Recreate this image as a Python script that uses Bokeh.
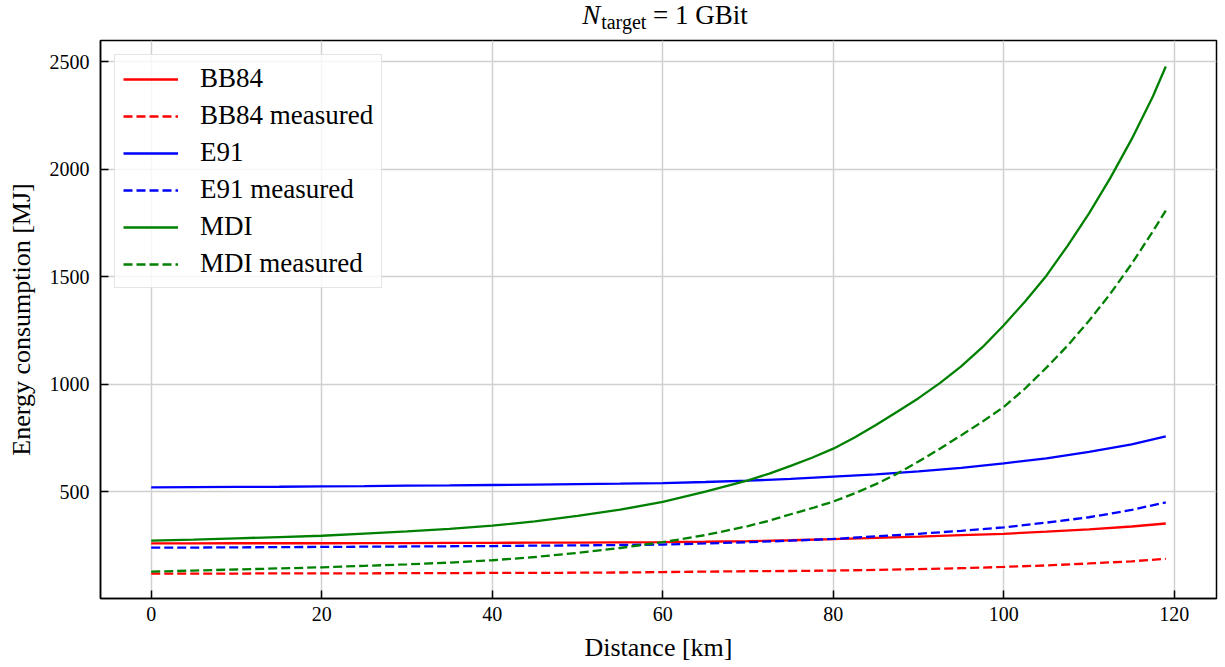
from bokeh.plotting import figure
from bokeh.models import FixedTicker, Div
from bokeh.layouts import column
from bokeh.embed import file_html
from bokeh.resources import INLINE

# ---------------- data ----------------
distance = [0, 5, 10, 15, 20, 25, 30, 35, 40, 45, 50, 55, 60, 65, 70,
            75, 80, 85, 90, 95, 100, 105, 110, 115, 119]
bb84 = [259, 259, 260, 260, 260, 261, 261, 262, 262, 263, 263, 264, 265,
        267, 270, 274, 279, 285, 291, 298, 304, 314, 325, 338, 352]
bb84_measured = [119, 119, 119, 120, 120, 120, 121, 121, 122, 122, 123, 124,
                 126, 128, 130, 131, 133, 136, 140, 144, 150, 157, 166, 176, 188]
e91 = [520, 521, 522, 523, 525, 526, 528, 529, 531, 533, 535, 537, 540,
       545, 551, 560, 570, 580, 594, 611, 632, 655, 685, 720, 757]
e91_measured = [240, 240, 241, 242, 243, 244, 245, 246, 247, 249, 250, 252,
                254, 259, 265, 272, 280, 292, 304, 318, 334, 356, 381, 415, 450]

# MDI curves read more densely (they bend strongly)
mdi_distance = [0, 5, 10, 15, 20, 25, 30, 35, 40, 45, 50, 55, 60, 65, 70,
                72.5, 75, 77.5, 80, 82.5, 85, 87.5, 90, 92.5, 95, 97.5, 100,
                102.5, 105, 107.5, 110, 112.5, 115, 117.5, 119]
mdi = [272, 277, 283, 289, 295, 305, 315, 327, 342, 362, 387, 416, 452,
       500, 553, 584, 620, 658, 700, 752, 810, 872, 935, 1005, 1083, 1172,
       1274, 1385, 1505, 1645, 1795, 1960, 2140, 2340, 2478]
mdi_measured = [128, 133, 138, 143, 148, 155, 162, 170, 181, 196, 215, 238,
                265, 298, 340, 365, 395, 423, 454, 492, 535, 584, 640, 700,
                762, 826, 894, 980, 1077, 1180, 1295, 1421, 1560, 1712, 1808]

x_ticks = [0, 20, 40, 60, 80, 100, 120]
y_ticks = [500, 1000, 1500, 2000, 2500]

series = [
    ("BB84", distance, bb84, "#ff0000", "solid"),
    ("BB84 measured", distance, bb84_measured, "#ff0000", "9 4"),
    ("E91", distance, e91, "#0000ff", "solid"),
    ("E91 measured", distance, e91_measured, "#0000ff", "9 4"),
    ("MDI", mdi_distance, mdi, "#008000", "solid"),
    ("MDI measured", mdi_distance, mdi_measured, "#008000", "9 4"),
]

FONT = "Liberation Serif"

p = figure(width=1220, height=632, output_backend="svg", toolbar_location=None,
           x_range=(-5.95, 124.95), y_range=(3, 2599),
           min_border_left=100, min_border_right=4, min_border_top=6,
           min_border_bottom=68)

for name, xs, ys, color, dash in series:
    p.line(xs, ys, line_color=color, line_width=2.3, line_dash=dash,
           legend_label=name)

# axes
p.xaxis.ticker = FixedTicker(ticks=x_ticks)
p.yaxis.ticker = FixedTicker(ticks=y_ticks)
for ax in (p.xaxis[0], p.yaxis[0]):
    ax.major_tick_in = 8
    ax.major_tick_out = 0
    ax.minor_tick_in = 0
    ax.minor_tick_out = 0
    ax.major_tick_line_width = 1.5
    ax.axis_line_width = 1.5
    ax.axis_line_color = "black"
    ax.major_label_text_font = FONT
    ax.major_label_text_font_size = "20px"
    ax.major_label_text_color = "black"
    ax.axis_label_text_font = FONT
    ax.axis_label_text_font_size = "26px"
    ax.axis_label_text_font_style = "normal"
    ax.axis_label_text_color = "black"

p.xaxis.axis_label = "Distance [km]"
p.yaxis.axis_label = "Energy consumption [MJ]"
p.xaxis.major_label_standoff = 8
p.xaxis.axis_label_standoff = 9
p.yaxis.major_label_standoff = 11
p.yaxis.axis_label_standoff = 11

p.xgrid.ticker = FixedTicker(ticks=x_ticks)
p.ygrid.ticker = FixedTicker(ticks=y_ticks)
p.grid.grid_line_color = "#d0d0d0"
p.grid.grid_line_width = 1.5

p.outline_line_color = "black"
p.outline_line_width = 1.5
p.outline_line_alpha = 1.0
p.background_fill_color = "white"
p.border_fill_color = "white"

# legend
lg = p.legend[0]
lg.location = "top_left"
lg.margin = 14
lg.padding = 8
lg.spacing = 6
lg.glyph_width = 55
lg.glyph_height = 28
lg.label_height = 28
lg.label_standoff = 22
lg.label_text_font = FONT
lg.label_text_font_size = "27px"
lg.label_text_color = "black"
lg.border_line_color = "#cccccc"
lg.border_line_width = 1.5
lg.background_fill_alpha = 0.8

# title: N_target = 1 GBit
title = Div(
    text=("<div style=\"width:1116px;text-align:center;padding-left:14px;"
          "box-sizing:border-box;"
          "font-family:'Liberation Serif';font-size:27px;line-height:30px;"
          "color:black;white-space:nowrap;\">"
          "<i>N</i><span style=\"font-size:20px;position:relative;top:5px;"
          "margin-left:1px;\">target</span> = 1 GBit</div>"),
    width=1116, height=34, margin=(0, 0, 0, 100),
    styles={"text-align": "center", "width": "1116px"})

layout = column(title, p, spacing=0)

open("out.html", "w").write(file_html(layout, INLINE))
